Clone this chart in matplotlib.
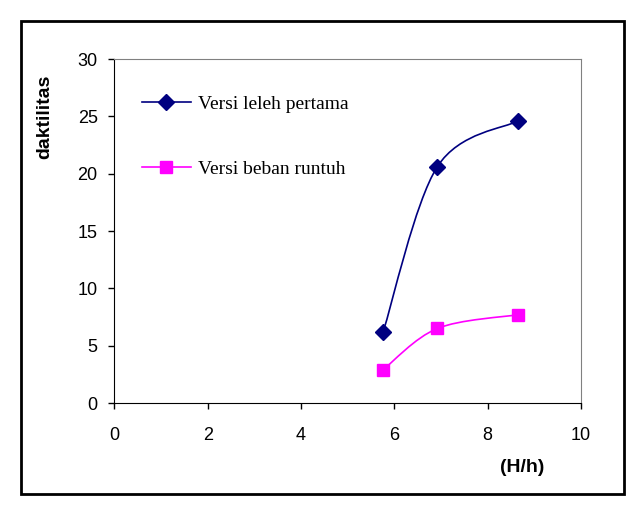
import matplotlib.pyplot as plt
import numpy as np
from matplotlib.path import Path
from matplotlib.patches import PathPatch, Rectangle
from matplotlib.lines import Line2D

# data
hh = [5.76, 6.92, 8.65]
leleh = [6.2, 20.6, 24.6]
runtuh = [2.9, 6.5, 7.7]
labels = ['Versi leleh pertama', 'Versi beban runtuh']
xticks = [0, 2, 4, 6, 8, 10]
yticks = [0, 5, 10, 15, 20, 25, 30]


def smooth_path(x, y):
    # excel-like smoothed line (catmull-rom bezier)
    p = np.column_stack([x, y]).astype(float)
    pts = np.vstack([p[0], p, p[-1]])
    verts = [p[0]]
    codes = [Path.MOVETO]
    for i in range(1, len(pts) - 2):
        c1 = pts[i] + (pts[i + 1] - pts[i - 1]) / 6
        c2 = pts[i + 1] - (pts[i + 2] - pts[i]) / 6
        verts += [c1, c2, pts[i + 1]]
        codes += [Path.CURVE4] * 3
    return Path(verts, codes)


W, H = 643, 512
fig = plt.figure(figsize=(W / 100, H / 100), dpi=100)
ax = fig.add_axes([114.3 / W, 1 - 403 / H, (581 - 114.3) / W, (403 - 59) / H])

colors = ['#000080', '#ff00ff']
markers = ['D', 's']
msizes = [8, 9]
for ys, c, m, ms in zip([leleh, runtuh], colors, markers, msizes):
    ax.add_patch(PathPatch(smooth_path(hh, ys), fc='none', ec=c, lw=1.2, zorder=2))
    ax.plot(hh, ys, ls='none', marker=m, ms=ms, color=c, zorder=3)

ax.set_xlim(0, 10)
ax.set_ylim(0, 30)
ax.set_xticks(xticks)
ax.set_yticks(yticks)
ax.tick_params(direction='out', length=4.5, width=1, labelsize=13)
ax.tick_params(axis='y', pad=7.5)
ax.tick_params(axis='x', pad=13)
for lab in ax.get_xticklabels() + ax.get_yticklabels():
    lab.set_family('Liberation Sans')
ax.spines['top'].set_color('#808080')
ax.spines['right'].set_color('#808080')

fig.text(45 / W, 1 - 117 / H, 'daktilitas', fontsize=14, fontweight='bold',
         family='Liberation Sans', rotation=90, ha='center', va='center')
fig.text(522 / W, 1 - 467 / H, '(H/h)', fontsize=14, fontweight='bold',
         family='Liberation Sans', ha='center', va='center')

handles = [Line2D([], [], color=c, marker=m, ms=ms, lw=1.2) for c, m, ms in zip(colors, markers, msizes)]
leg = fig.legend(handles, labels, loc='upper left', bbox_to_anchor=(142 / W, 1 - 95 / H),
                 frameon=False, borderpad=0, borderaxespad=0, handlelength=2.5,
                 handletextpad=0.36, labelspacing=2.45,
                 prop={'family': 'Liberation Serif', 'size': 14})

fig.add_artist(Rectangle((21 / W, 1 - 494 / H), (624 - 21) / W, (494 - 21) / H,
                         transform=fig.transFigure, fill=False, ec='black', lw=2))

fig.savefig('out.png', dpi=100)
